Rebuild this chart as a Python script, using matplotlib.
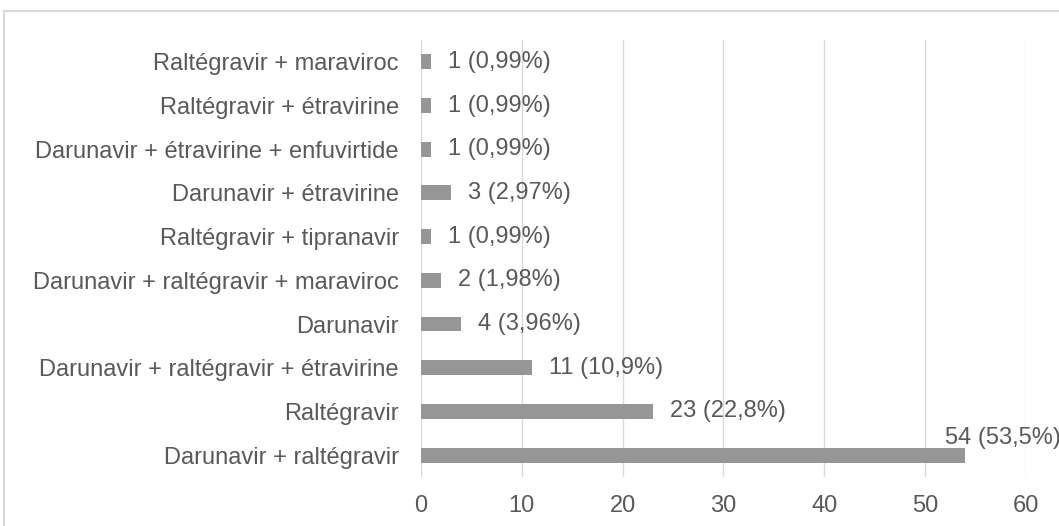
import matplotlib.pyplot as plt
from matplotlib.patches import Rectangle

plt.rcParams['font.family'] = ['Liberation Sans', 'DejaVu Sans']

# treatment combinations, listed bottom to top
regimens = [
    "Darunavir + raltégravir",
    "Raltégravir",
    "Darunavir + raltégravir + étravirine",
    "Darunavir",
    "Darunavir + raltégravir + maraviroc",
    "Raltégravir + tipranavir",
    "Darunavir + étravirine",
    "Darunavir + étravirine + enfuvirtide",
    "Raltégravir + étravirine",
    "Raltégravir + maraviroc",
]
counts = [54, 23, 11, 4, 2, 1, 3, 1, 1, 1]
percents = ["53,5%", "22,8%", "10,9%", "3,96%", "1,98%", "0,99%", "2,97%", "0,99%", "0,99%", "0,99%"]
xticks = [0, 10, 20, 30, 40, 50, 60]

text_col = "#595959"
bar_col = "#969696"
grid_col = "#d9d9d9"
fs = 17

fig = plt.figure(figsize=(10.59, 5.26), dpi=100)
ax = fig.add_axes([0.3975, 0.0932, 0.5713, 0.8308])

ypos = list(range(len(regimens)))
ax.barh(ypos, counts, height=0.34, color=bar_col, zorder=3)

for y, n, p in zip(ypos, counts, percents):
    label = f"{n} ({p})"
    if n == max(counts):
        # the long bar's label sits above its end
        ax.annotate(label, (n, y), xytext=(-15, 12), textcoords="offset points",
                    ha="left", va="center", fontsize=fs, color=text_col,
                    annotation_clip=False)
    else:
        ax.annotate(label, (n, y), xytext=(12, 0), textcoords="offset points",
                    ha="left", va="center", fontsize=fs, color=text_col)

ax.set_xlim(0, 60)
ax.set_ylim(-0.5, len(regimens) - 0.5)
ax.set_xticks(xticks)
ax.set_yticks(ypos)
ax.set_yticklabels(regimens)
ax.tick_params(axis="y", length=0, pad=16, labelsize=fs, labelcolor=text_col)
ax.tick_params(axis="x", length=0, pad=13, labelsize=fs, labelcolor=text_col)
ax.grid(axis="x", color=grid_col, linewidth=1, zorder=0)
for s in ax.spines.values():
    s.set_visible(False)

# light outer frame
fig.patches.append(Rectangle((4 / 1059, -0.1), 1.2, 1 - 11 / 526 + 0.1,
                             transform=fig.transFigure, fill=False,
                             edgecolor=grid_col, linewidth=1.5))

fig.savefig("out.png", dpi=100)
